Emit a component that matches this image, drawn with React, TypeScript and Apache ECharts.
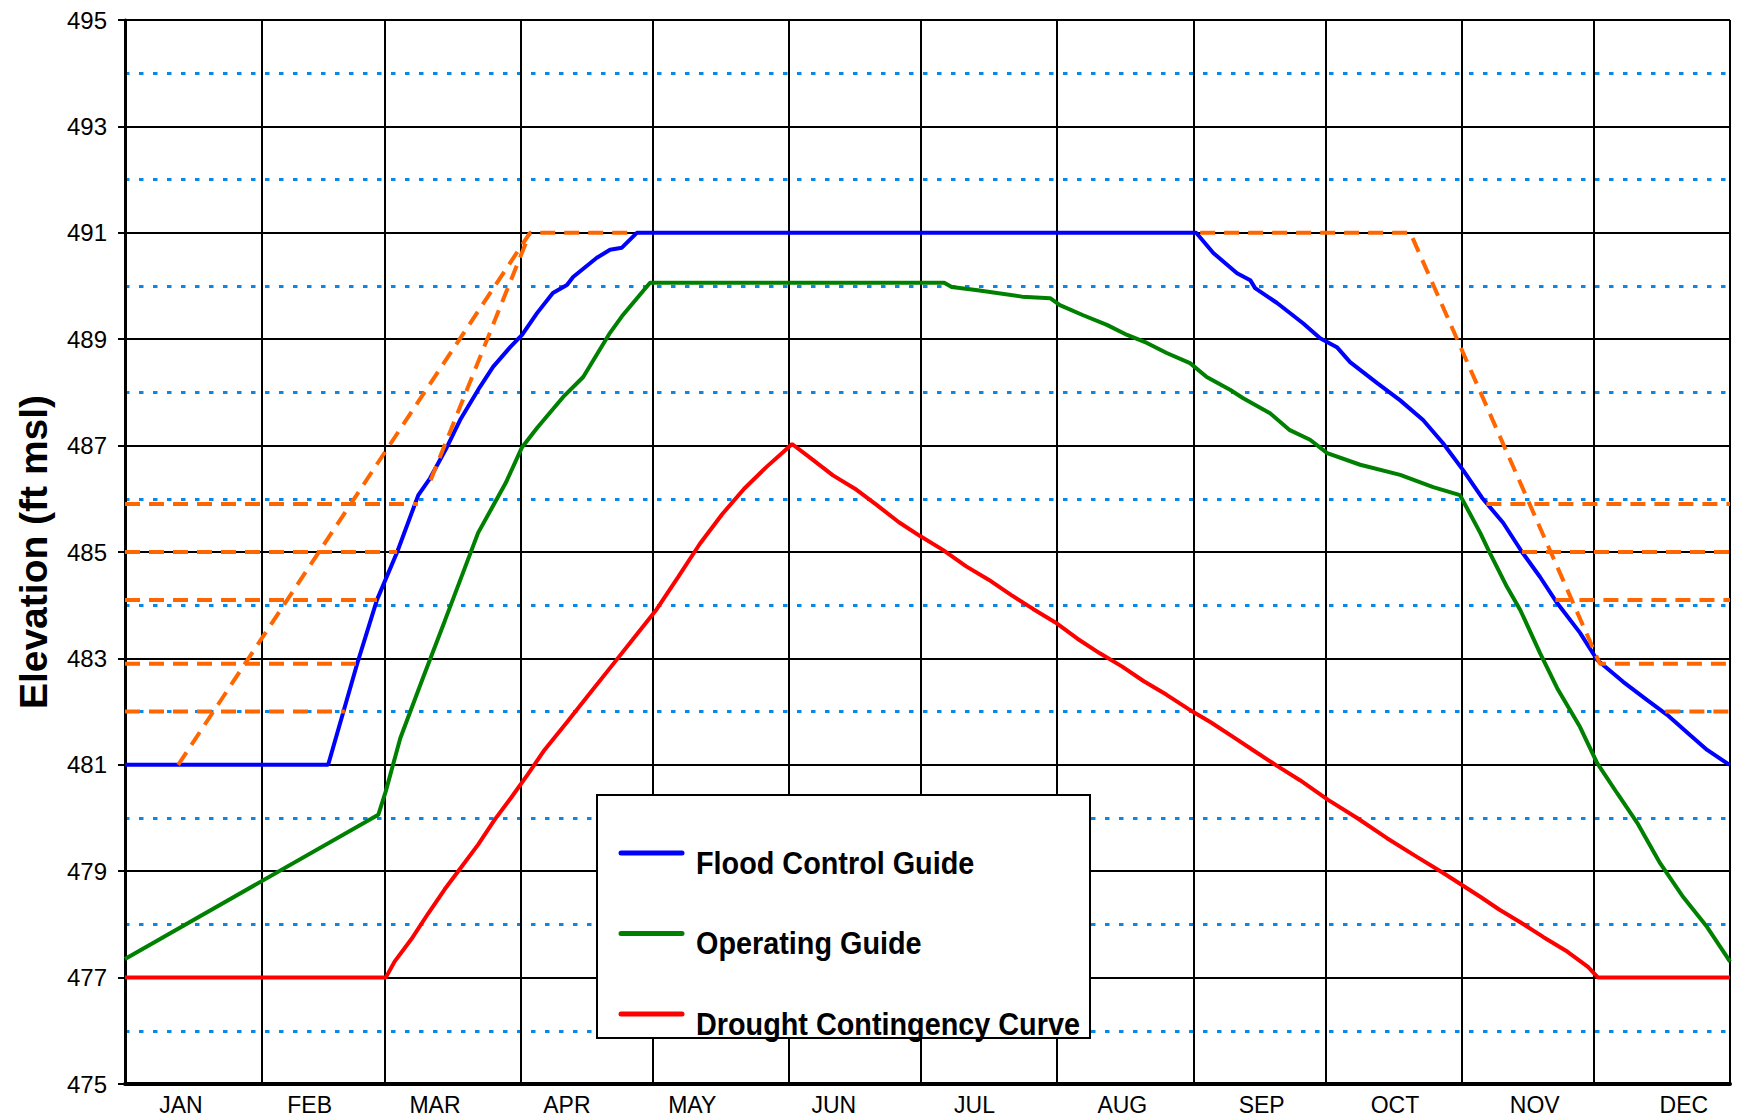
import React, { useEffect, useRef } from "react";
import * as echarts from "echarts";

// ---- axis data ----
const monthNames = ["JAN", "FEB", "MAR", "APR", "MAY", "JUN", "JUL", "AUG", "SEP", "OCT", "NOV", "DEC"];
// day-of-year boundaries of months (vertical grid lines)
const monthBoundaries = [0, 31, 59, 90, 120, 151, 181, 212, 243, 273, 304, 334, 365];
// day-of-year where month labels sit
const monthLabelDays = [12.7, 42, 70.5, 100.5, 129, 161.2, 193.2, 226.8, 258.5, 288.8, 320.6, 354.5];
const majorElevations = [475, 477, 479, 481, 483, 485, 487, 489, 491, 493, 495];
const minorElevations = [476, 478, 480, 482, 484, 486, 488, 490, 492, 494];

// ---- series data: [day of year, elevation ft msl] ----
const floodControlGuide: [number, number][] = [
  [0, 481], [46.2, 481], [52.8, 482.9], [57.3, 484.1], [61.9, 485], [66.7, 486.07], [69.4, 486.39],
  [73.2, 486.97], [76.2, 487.48], [80.7, 488.1], [83.7, 488.48], [87.6, 488.85], [90.3, 489.08],
  [93.7, 489.49], [97.3, 489.87], [100.5, 490.02], [101.9, 490.17], [107.3, 490.53], [110.3, 490.68],
  [113, 490.72], [116.4, 491], [243.6, 491], [247.5, 490.62], [252.9, 490.24], [255.9, 490.11],
  [257, 489.96], [262, 489.68], [267.9, 489.3], [271.8, 489.02], [275.6, 488.85], [278.6, 488.57],
  [284.7, 488.18], [290, 487.85], [295.2, 487.48], [299.7, 487.05], [304.3, 486.54], [308.6, 486.02],
  [313.4, 485.55], [317.7, 485], [321.8, 484.53], [325.7, 484.04], [330.9, 483.48], [334.8, 482.97],
  [340.7, 482.56], [346.1, 482.22], [350.7, 481.94], [355.9, 481.56], [359.8, 481.28], [364.3, 481.03],
  [365, 481],
];

const operatingGuide: [number, number][] = [
  [0, 477.35], [57.6, 480.06], [59.3, 480.5], [62.6, 481.5], [67.6, 482.6], [72.7, 483.7],
  [80.3, 485.36], [86.6, 486.3], [90.3, 486.97], [93.7, 487.33], [99.6, 487.91], [104.2, 488.29],
  [110.3, 489.12], [113, 489.43], [119.4, 490.06], [186.3, 490.06], [188, 489.98], [193.9, 489.92],
  [204, 489.8], [210.4, 489.77], [212.6, 489.64], [217.9, 489.45], [223.3, 489.27], [227.9, 489.08],
  [232.4, 488.93], [236.9, 488.74], [242.2, 488.55], [246, 488.29], [251.3, 488.05], [254.3, 487.89],
  [260.4, 487.61], [264.9, 487.29], [269.5, 487.11], [273.4, 486.86], [280.9, 486.64], [290, 486.45],
  [297.5, 486.22], [303.6, 486.07], [308.2, 485.36], [310.4, 484.98], [314.3, 484.34], [317.3, 483.91],
  [321.8, 483.1], [325.9, 482.41], [330.9, 481.71], [334.8, 481.03], [339.3, 480.47], [343.9, 479.91],
  [349.1, 479.15], [354.4, 478.51], [359.8, 477.95], [364.3, 477.39], [365, 477.3],
];

const droughtContingency: [number, number][] = [
  [0, 477], [59.3, 477], [61.3, 477.3], [65.1, 477.72], [68.9, 478.2], [72.7, 478.66], [76.5, 479.08],
  [80.3, 479.5], [84, 479.96], [87.8, 480.38], [91.6, 480.82], [95.4, 481.28], [100.5, 481.8],
  [105.5, 482.32], [110.6, 482.85], [115.6, 483.37], [120.7, 483.9], [125.7, 484.52], [130.7, 485.15],
  [135.8, 485.71], [140.8, 486.19], [145.9, 486.6], [149.7, 486.88], [151.7, 487.03], [156, 486.76],
  [161, 486.44], [166, 486.19], [171, 485.88], [176, 485.56], [181, 485.29], [186, 485.04],
  [191.3, 484.73], [196.4, 484.48], [201.4, 484.2], [206.5, 483.93], [211.5, 483.68], [216.6, 483.37],
  [221.6, 483.1], [226.7, 482.85], [231.7, 482.57], [236.8, 482.32], [241.8, 482.05], [246.9, 481.8],
  [251.9, 481.53], [257, 481.25], [262, 480.98], [267.2, 480.71], [273.6, 480.34], [280.2, 480.0],
  [287, 479.62], [293.8, 479.27], [299.7, 478.97], [308.2, 478.52], [312.5, 478.28], [317.5, 478.03],
  [322.6, 477.76], [327.6, 477.51], [332.7, 477.2], [335, 477], [365, 477],
];

// orange dashed guide segments
const guideSegments: [number, number][][] = [
  [[0, 485.9], [66.6, 485.9]],
  [[0, 485], [61.9, 485]],
  [[0, 484.1], [57.3, 484.1]],
  [[0, 482.9], [52.8, 482.9]],
  [[0, 482], [50, 482]],
  [[12.1, 481], [92.1, 491], [116, 491]],
  [[69.5, 486.35], [92.1, 491]],
  [[244.5, 491], [292.3, 491], [335.4, 482.9], [365, 482.9]],
  [[309.6, 485.9], [365, 485.9]],
  [[317.7, 485], [365, 485]],
  [[325.3, 484.1], [365, 484.1]],
  [[350.3, 482], [365, 482]],
];

const legendItems = [
  { name: "Flood Control Guide", color: "#0000FF" },
  { name: "Operating Guide", color: "#008000" },
  { name: "Drought Contingency Curve", color: "#FF0000" },
];

const FONT = '"Liberation Sans", Arial, sans-serif';

export default function App() {
  const ref = useRef<HTMLDivElement>(null);

  useEffect(() => {
    if (!ref.current) return;
    const chart = echarts.init(ref.current, undefined, { renderer: "svg" });

    const lineSeries = (name: string, data: [number, number][], color: string) => ({
      name,
      type: "line",
      data,
      showSymbol: false,
      symbol: "none",
      silent: true,
      lineStyle: { color, width: 4 },
      z: 3,
    });

    const guideSeries = guideSegments.map((seg, i) => ({
      name: "guide" + i,
      type: "line",
      data: seg,
      showSymbol: false,
      symbol: "none",
      silent: true,
      lineStyle: { color: "#FF6600", width: 4, type: [15, 9] },
      z: 4,
    }));

    const legendGraphics: any[] = [
      {
        type: "rect",
        shape: { x: 597, y: 795, width: 493, height: 243 },
        style: { fill: "#fff", stroke: "#000", lineWidth: 2 },
        z: 100,
      },
    ];
    legendItems.forEach((it, i) => {
      const ly = 853 + i * 80.5;
      legendGraphics.push({
        type: "line",
        shape: { x1: 621, y1: ly, x2: 682, y2: ly },
        style: { stroke: it.color, lineWidth: 5, lineCap: "round" },
        z: 101,
      });
      legendGraphics.push({
        type: "text",
        x: 696,
        y: ly + 9,
        scaleX: 0.9,
        style: {
          text: it.name,
          fill: "#000",
          fontFamily: FONT,
          fontSize: 32,
          fontWeight: "bold",
          verticalAlign: "middle",
          align: "left",
        },
        z: 101,
      });
    });

    chart.setOption({
      animation: false,
      backgroundColor: "#fff",
      grid: { left: 125, right: 11, top: 20, bottom: 33, containLabel: false },
      xAxis: {
        type: "value",
        min: 0,
        max: 365,
        axisLine: { show: true, onZero: false, lineStyle: { color: "#000", width: 4 } },
        axisTick: { show: false, customValues: monthBoundaries },
        axisLabel: {
          customValues: monthLabelDays,
          formatter: (v: number) => {
            const idx = monthLabelDays.findIndex((d) => Math.abs(d - v) < 0.01);
            return idx >= 0 ? monthNames[idx] : "";
          },
          fontFamily: '"Liberation Sans Narrow", ' + FONT,
          fontSize: 23,
          color: "#000",
          margin: 9,
        },
        splitLine: { show: true, lineStyle: { color: "#000", width: 2 } },
      },
      yAxis: [
        {
          type: "value",
          min: 475,
          max: 495,
          axisLine: { show: true, lineStyle: { color: "#000", width: 3 } },
          axisTick: {
            show: true,
            customValues: majorElevations,
            length: 7,
            lineStyle: { color: "#000", width: 2 },
          },
          axisLabel: {
            customValues: majorElevations,
            fontFamily: FONT,
            fontSize: 24,
            color: "#000",
            margin: 18,
          },
          splitLine: { show: true, lineStyle: { color: "#000", width: 2 } },
          name: "Elevation (ft msl)",
          nameLocation: "middle",
          nameGap: 72,
          nameTextStyle: { fontFamily: FONT, fontSize: 39, fontWeight: "bold", color: "#000" },
        },
        {
          type: "value",
          min: 475,
          max: 495,
          position: "left",
          axisLine: { show: false },
          axisTick: { show: false, customValues: minorElevations },
          axisLabel: { show: false },
          splitLine: { show: true, lineStyle: { color: "#0A88E6", width: 3, type: [4.5, 9.5] } },
        },
      ],
      series: [
        lineSeries("Flood Control Guide", floodControlGuide, "#0000FF"),
        lineSeries("Operating Guide", operatingGuide, "#008000"),
        lineSeries("Drought Contingency Curve", droughtContingency, "#FF0000"),
        ...guideSeries,
      ],
      graphic: legendGraphics,
    });

    return () => chart.dispose();
  }, []);

  return (
    <div
      ref={ref}
      style={{ position: "fixed", left: 0, top: 0, width: 1741, height: 1117, background: "#fff" }}
    />
  );
}
